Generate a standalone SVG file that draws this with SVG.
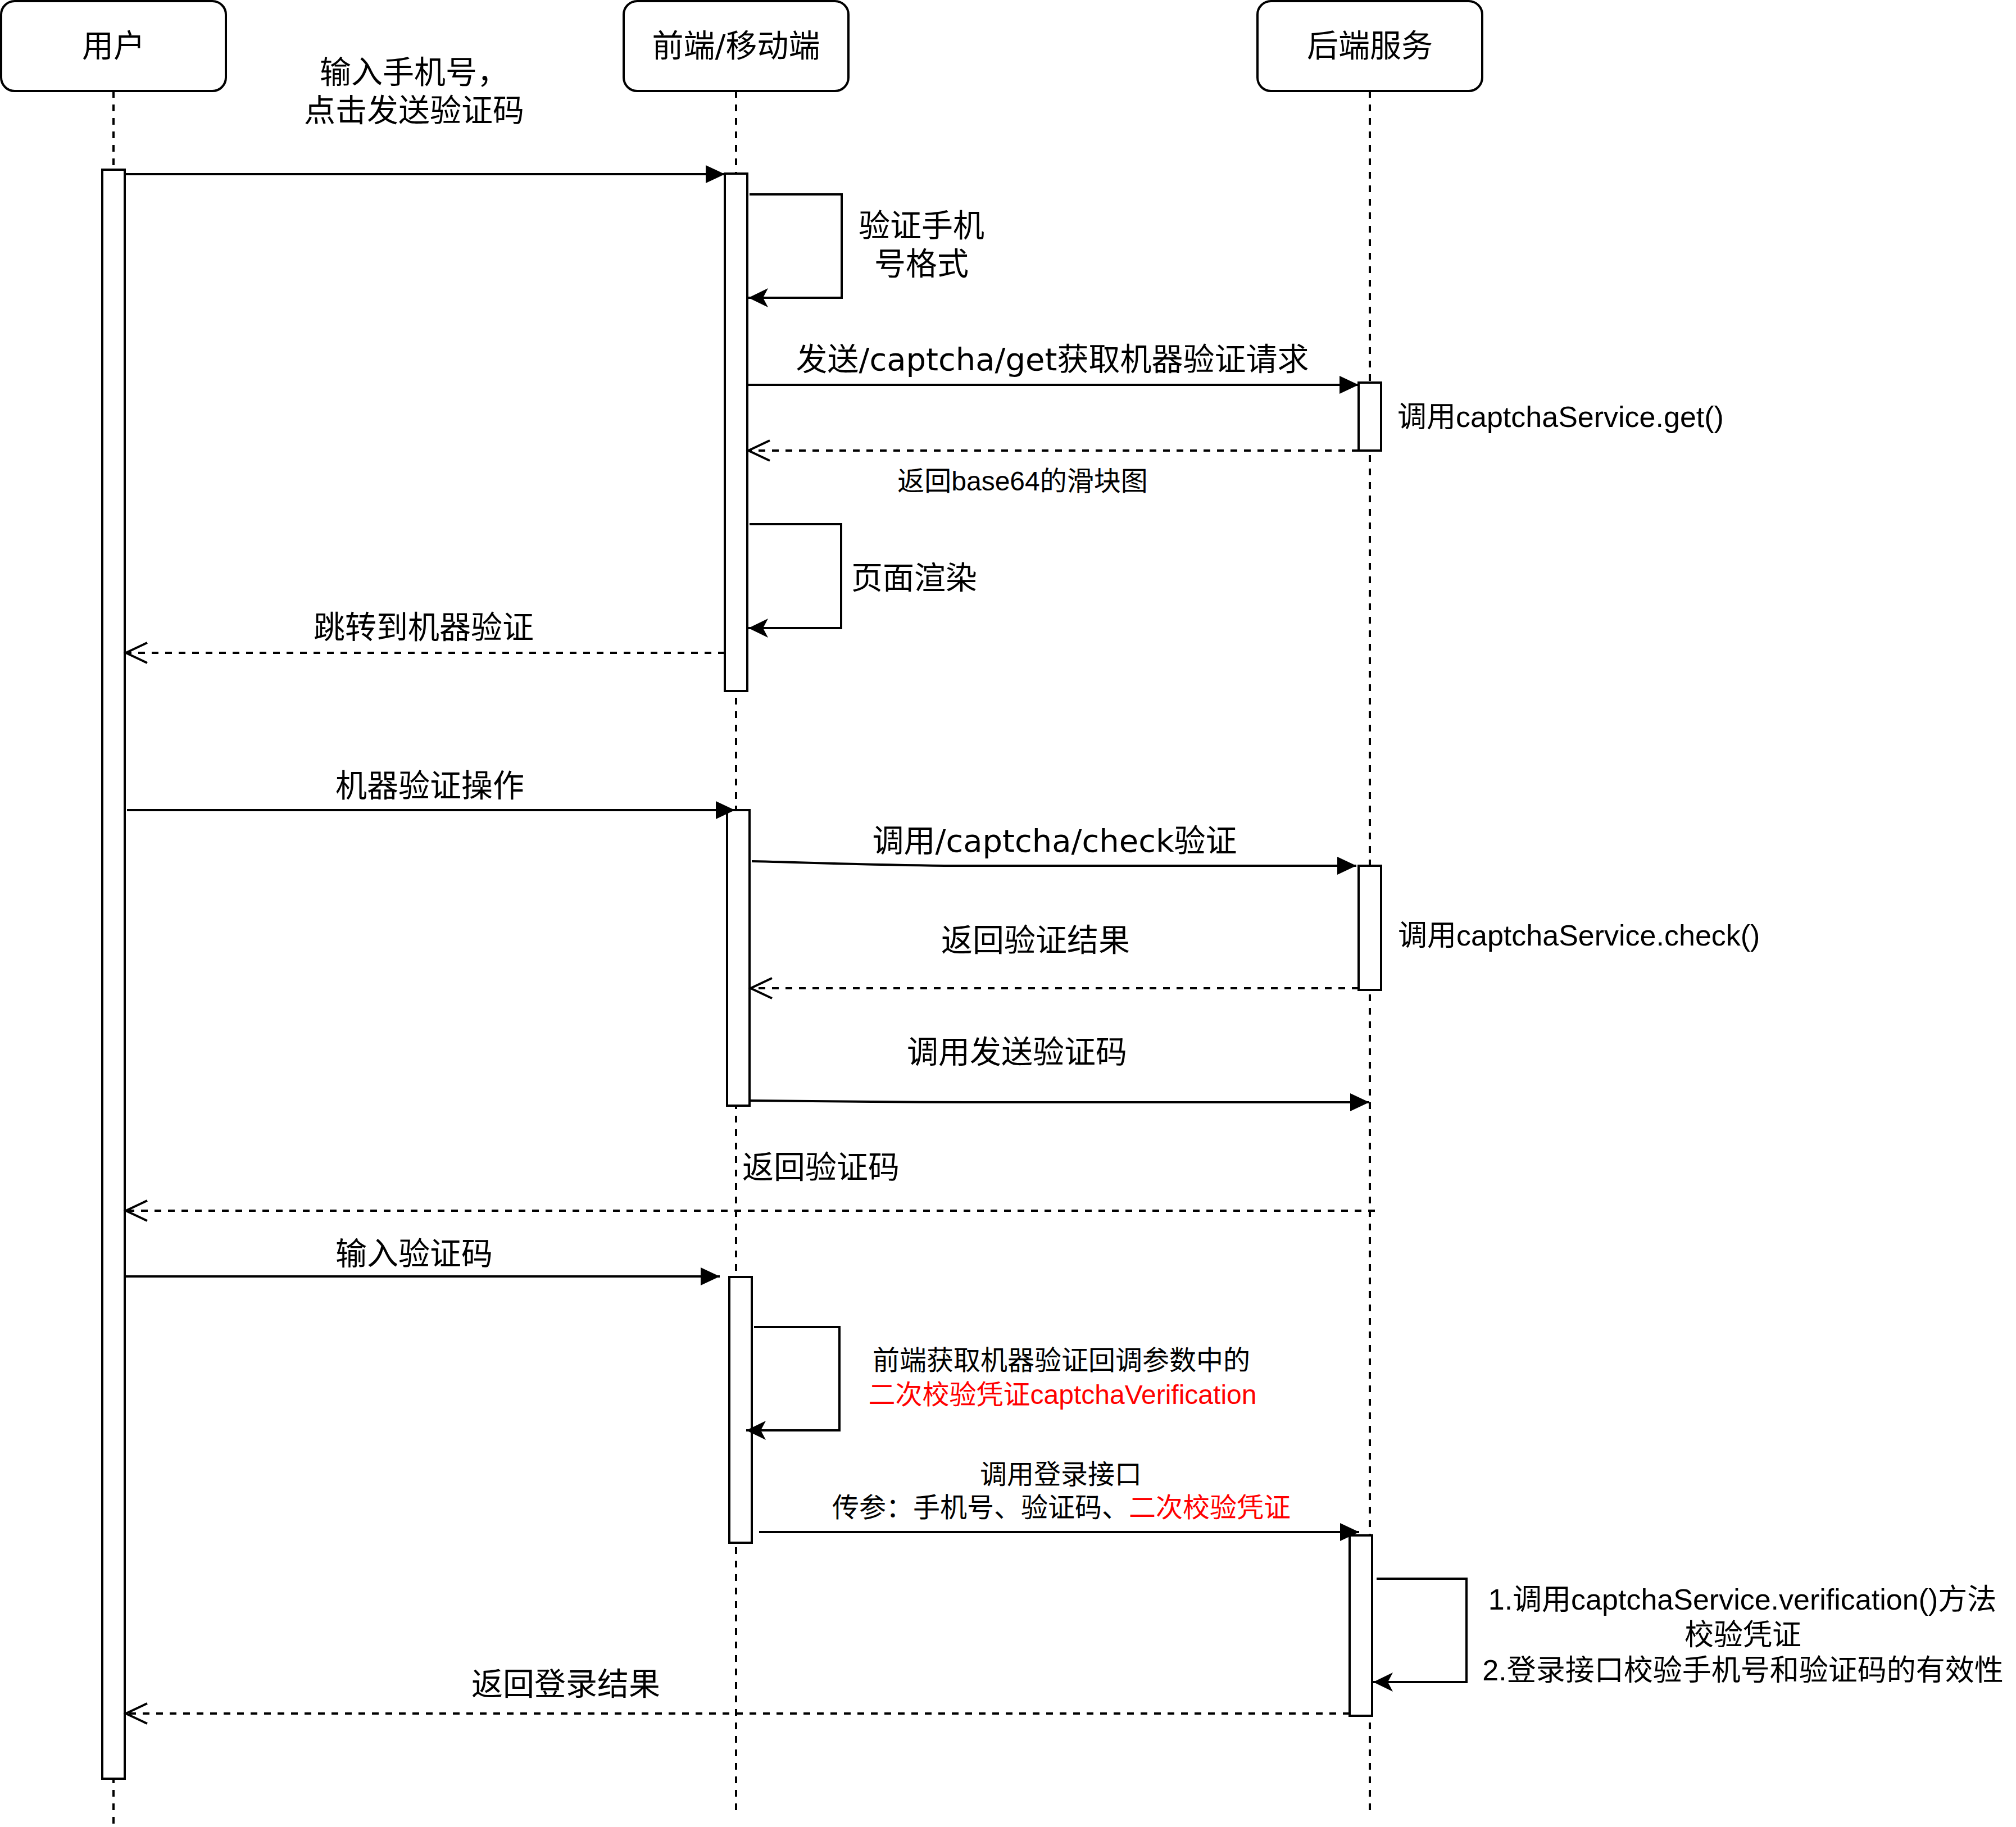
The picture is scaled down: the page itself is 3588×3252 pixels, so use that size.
<svg xmlns="http://www.w3.org/2000/svg" width="3588" height="3252" viewBox="0 0 3588 3252">
<style>
.box{fill:#fff;stroke:#000;stroke-width:4}
.act{fill:#fff;stroke:#000;stroke-width:4}
.life{fill:none;stroke:#000;stroke-width:4;stroke-dasharray:12 12}
.msg{fill:none;stroke:#000;stroke-width:4}
.ret{fill:none;stroke:#000;stroke-width:4;stroke-dasharray:12 12}
.t56{font-family:"DejaVu Sans","Noto Sans CJK SC",sans-serif;font-size:56px;fill:#000;dominant-baseline:central}
.t48{font-family:"Liberation Sans","Noto Sans CJK SC",sans-serif;font-size:48px;fill:#000;dominant-baseline:central}
.t52{font-family:"Liberation Sans","Noto Sans CJK SC",sans-serif;font-size:52px;fill:#000;dominant-baseline:central}
.mid{text-anchor:middle}
.red{fill:#FF0000}
</style>
<defs>
<marker id="block" markerUnits="userSpaceOnUse" markerWidth="40" markerHeight="40" refX="34" refY="16" orient="auto" overflow="visible">
<path d="M0,0 L34,16 L0,32 Z" fill="#000" stroke="none"/>
</marker>
<marker id="classic" markerUnits="userSpaceOnUse" markerWidth="40" markerHeight="40" refX="35" refY="17" orient="auto" overflow="visible">
<path d="M0,0 L35,17 L0,34 L9,17 Z" fill="#000" stroke="none"/>
</marker>
<marker id="open" markerUnits="userSpaceOnUse" markerWidth="44" markerHeight="44" refX="38" refY="18" orient="auto" overflow="visible">
<path d="M0,0 L38,18 L0,36" fill="none" stroke="#000" stroke-width="4" stroke-dasharray="none"/>
</marker>
</defs>
<rect width="3588" height="3252" fill="#fff"/>

<g id="lifelines">
<line class="life" x1="202" y1="162" x2="202" y2="3250"/>
<line class="life" x1="1310" y1="162" x2="1310" y2="3222"/>
<line class="life" x1="2438" y1="162" x2="2438" y2="3222"/>
</g>

<g id="user">
<rect class="box" x="2" y="2" width="400" height="160" rx="24" ry="24"/>
<text class="t56 mid" x="202" y="81">用户</text>
</g>
<g id="frontend">
<rect class="box" x="1110" y="2" width="400" height="160" rx="24" ry="24"/>
<text class="t56 mid" x="1310" y="81">前端/移动端</text>
</g>
<g id="backend">
<rect class="box" x="2238" y="2" width="400" height="160" rx="24" ry="24"/>
<text class="t56 mid" x="2438" y="81">后端服务</text>
</g>

<g id="activations">
<rect id="act-user" class="act" x="182" y="302" width="40" height="2864"/>
<rect id="act-front-1" class="act" x="1290" y="309" width="40" height="921"/>
<rect id="act-back-1" class="act" x="2418" y="681" width="40" height="121"/>
<rect id="act-front-2" class="act" x="1294" y="1442" width="40" height="526"/>
<rect id="act-back-2" class="act" x="2418" y="1541" width="40" height="221"/>
<rect id="act-front-3" class="act" x="1298" y="2273" width="40" height="473"/>
<rect id="act-back-3" class="act" x="2402" y="2733" width="40" height="321"/>
</g>

<g id="connectors">
<path class="msg" d="M222 310 H1290" marker-end="url(#block)"/>
<path class="msg" d="M1334 346 H1498 V530 H1332" marker-end="url(#classic)"/>
<path class="msg" d="M1330 685 H2418" marker-end="url(#block)"/>
<path class="ret" d="M2418 802 H1332" marker-end="url(#open)"/>
<path class="msg" d="M1334 933 H1497 V1118 H1332" marker-end="url(#classic)"/>
<path class="ret" d="M1290 1162 H224" marker-end="url(#open)"/>
<path class="msg" d="M226 1442 H1308" marker-end="url(#block)"/>
<path class="msg" d="M1338 1533 C1500 1537 1600 1541 1720 1541 H2414" marker-end="url(#block)"/>
<path class="ret" d="M2418 1759 H1336" marker-end="url(#open)"/>
<path class="msg" d="M1336 1959 C1500 1961 1600 1962 1720 1962 H2437" marker-end="url(#block)"/>
<path class="ret" d="M2447 2155 H224" marker-end="url(#open)"/>
<path class="msg" d="M223 2272 H1281" marker-end="url(#block)"/>
<path class="msg" d="M1342 2362 H1494 V2546 H1328" marker-end="url(#classic)"/>
<path class="msg" d="M1351 2727 H2419" marker-end="url(#block)"/>
<path class="msg" d="M2450 2810 H2610 V2994 H2444" marker-end="url(#classic)"/>
<path class="ret" d="M2402 3050 H224" marker-end="url(#open)"/>
</g>

<g id="labels">
<text class="t56 mid" x="737" y="128">输入手机号，</text>
<text class="t56 mid" x="737" y="196">点击发送验证码</text>
<text class="t56 mid" x="1640" y="401">验证手机</text>
<text class="t56 mid" x="1640" y="469">号格式</text>
<text class="t56 mid" x="1873" y="639">发送/captcha/get获取机器验证请求</text>
<text class="t52" x="2487" y="742">调用captchaService.get()</text>
<text class="t48 mid" x="1820" y="856">返回base64的滑块图</text>
<text class="t56" x="1515" y="1028">页面渲染</text>
<text class="t56 mid" x="754" y="1116">跳转到机器验证</text>
<text class="t56 mid" x="765" y="1398">机器验证操作</text>
<text class="t56 mid" x="1877" y="1496">调用/captcha/check验证</text>
<text class="t52" x="2488" y="1665">调用captchaService.check()</text>
<text class="t56 mid" x="1843" y="1673">返回验证结果</text>
<text class="t56 mid" x="1810" y="1872">调用发送验证码</text>
<text class="t56" x="1321" y="2077">返回验证码</text>
<text class="t56 mid" x="737" y="2231">输入验证码</text>
<text class="t48 mid" x="1889" y="2421">前端获取机器验证回调参数中的</text>
<text class="t48 mid red" x="1891" y="2482">二次校验凭证captchaVerification</text>
<text class="t48 mid" x="1888" y="2624">调用登录接口</text>
<text class="t48 mid" x="1889" y="2683">传参：手机号、验证码、<tspan class="red">二次校验凭证</tspan></text>
<text class="t52 mid" x="3101" y="2847">1.调用captchaService.verification()方法</text>
<text class="t52 mid" x="3102" y="2910">校验凭证</text>
<text class="t52 mid" x="3102" y="2973">2.登录接口校验手机号和验证码的有效性</text>
<text class="t56 mid" x="1007" y="2997">返回登录结果</text>
</g>
</svg>
